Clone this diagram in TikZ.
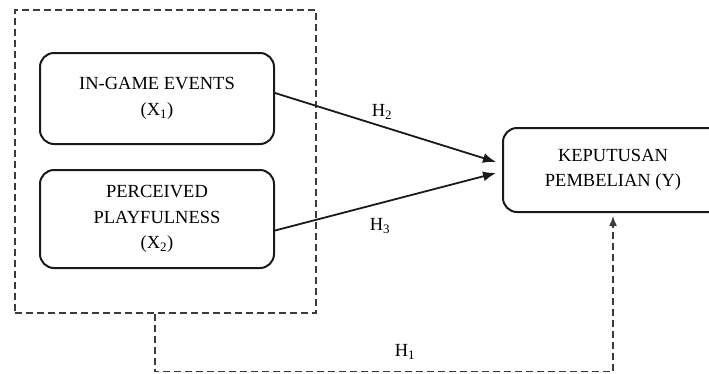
\documentclass[tikz,border=0pt]{standalone}
\usepackage{fontspec}
\setmainfont{Liberation Serif}
\usetikzlibrary{arrows.meta}
\definecolor{linec}{HTML}{1A1A1A}
\definecolor{dashc}{HTML}{3C3C3C}
\begin{document}
\begin{tikzpicture}[x=1pt,y=-1pt,
  varbox/.style={draw=linec,line width=2pt,rounded corners=14pt,align=center,inner sep=0pt,
    font=\fontsize{18.5}{25.5}\selectfont},
  grpbox/.style={draw=dashc,line width=1.5pt,dash pattern=on 7pt off 4pt,minimum width=301pt,minimum height=303pt,inner sep=0pt},
  arr/.style={draw=linec,line width=1.8pt,-{Latex[length=13pt,width=10pt]}},
  darr/.style={draw=dashc,line width=1.4pt,dash pattern=on 7pt off 4pt,-{Latex[length=10pt,width=8pt]}},
  hlab/.style={font=\fontsize{18.5}{20}\selectfont}]
\useasboundingbox (0,0) rectangle (709,373);
\node[grpbox] (grp) at (165.5,161.5) {};
\node[varbox,minimum width=234pt,minimum height=91pt] (b1) at (157,98.5) {IN-GAME EVENTS\\(X\textsubscript{1})};
\node[varbox,minimum width=234pt,minimum height=98pt] (b2) at (157,219) {PERCEIVED\\PLAYFULNESS\\(X\textsubscript{2})};
\node[varbox,minimum width=220pt,minimum height=84pt] (y) at (613,170) {KEPUTUSAN\\PEMBELIAN (Y)};
\draw[arr] ([yshift=5.5pt]b1.east) -- ([xshift=-6pt,yshift=8pt]y.west);
\draw[arr] ([yshift=-11.5pt]b2.east) -- ([xshift=-6pt,yshift=-3pt]y.west);
\draw[darr] ([xshift=-10.5pt]grp.south) -- ++(0,58) -| ([yshift=-3pt]y.south);
\node[hlab] (h2) at (382,112) {H\textsubscript{2}};
\node[hlab] (h3) at (380,226) {H\textsubscript{3}};
\node[hlab] (h1) at (405,352) {H\textsubscript{1}};
\end{tikzpicture}
\end{document}
